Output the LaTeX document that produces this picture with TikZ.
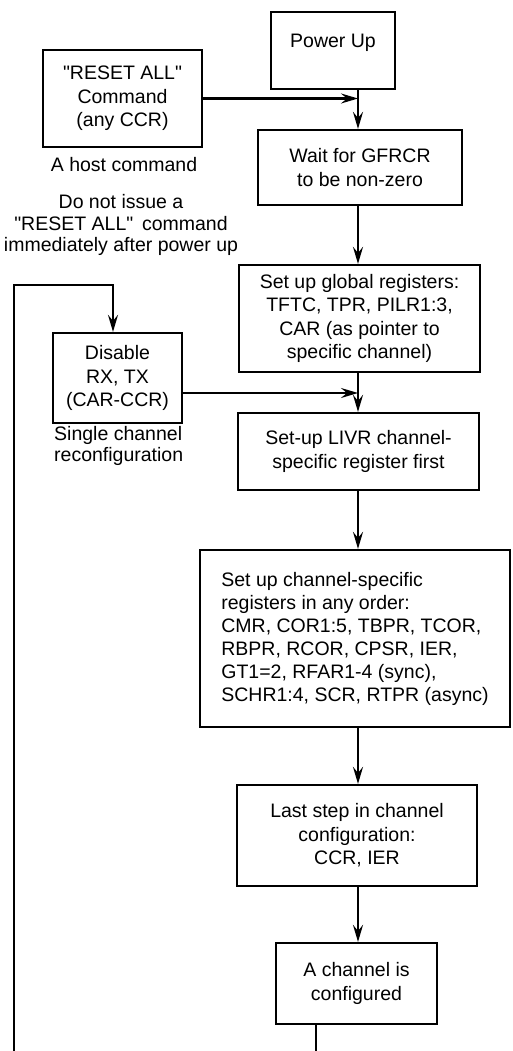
\documentclass[tikz,border=0pt]{standalone}
\usepackage{fontspec}
% plain typewriter-style quotes: keep " as it is typed
\setmainfont{Liberation Sans}[Ligatures=TeXOff]
\usetikzlibrary{arrows.meta}
\begin{document}
\begin{tikzpicture}[x=1pt,y=-1pt,
  box/.style={draw, line width=2.2pt, align=center, inner sep=0pt,
    font=\fontsize{19.5}{23.5}\selectfont},
  lbl/.style={align=center, inner sep=0pt,
    font=\fontsize{19.5}{21.5}\selectfont},
  flow/.style={line width=2.2pt,
    -{Stealth[length=17pt,width=10pt,inset=6pt]}},
  wire/.style={line width=2.2pt}]
\useasboundingbox (0,0) rectangle (512,1051);

% main column of steps
\node[box, minimum width=124pt, minimum height=77pt, text depth=19pt] (pwr) at (333,50.5) {Power Up};
\node[box, minimum width=159pt, minimum height=97pt] (rst) at (122.5,98.5)
  {"RESET ALL"\\Command\\(any CCR)};
\node[box, minimum width=204pt, minimum height=75pt] (wait) at (360,167.5)
  {Wait for GFRCR\\to be non-zero};
\node[box, minimum width=241pt, minimum height=107pt] (glob) at (359.5,318.5)
  {Set up global registers:\\TFTC, TPR, PILR1:3,\\CAR (as pointer to\\ specific channel)};
\node[box, minimum width=129pt, minimum height=90pt] (dis) at (117.5,378)
  {Disable\\RX, TX\\(CAR-CCR)};
\node[box, minimum width=241pt, minimum height=77pt] (livr) at (358.5,451.5)
  {Set-up LIVR channel-\\specific register first};
\node[box, minimum width=310pt, minimum height=177pt, align=left,
  font=\fontsize{19.5}{23}\selectfont] (chan) at (355,638.5)
  {Set up channel-specific\\registers in any order:\\CMR, COR1:5, TBPR, TCOR,\\RBPR, RCOR, CPSR, IER,\\GT1=2, RFAR1-4 (sync),\\SCHR1:4, SCR, RTPR (async)};
\node[box, minimum width=240pt, minimum height=101pt] (last) at (357,835.5)
  {Last step in channel\\configuration:\\CCR, IER};
\node[box, minimum width=161pt, minimum height=81pt] (done) at (356.5,983.5)
  {A channel is\\configured};

% side notes
\node[lbl] (host) at (124,165) {A host command};
\node[lbl] (note) at (121,225)
  {Do not issue a\\"RESET ALL"\hspace{0.45em}command\\immediately after power up};
\node[lbl, align=left, anchor=west] (single) at (54,446)
  {Single channel\\reconfiguration};

% connectors
\coordinate (axis) at (358,0);
\coordinate (loopbot) at (14,1051);
\coordinate (looptop) at (14,285);
\coordinate (exit) at (316,1051);

\draw[flow] (pwr.south -| axis) -- (wait.north -| axis);
\draw[flow] (rst.east) -- (rst.east -| axis);
\draw[flow] (wait.south -| axis) -- (glob.north -| axis);
\draw[flow] (glob.south -| axis) -- (livr.north -| axis);
\draw[flow] ([yshift=-15pt]dis.east) -- ([yshift=-15pt]dis.east -| axis);
\draw[flow] (livr.south -| axis) -- (chan.north -| axis);
\draw[flow] (chan.south -| axis) -- (last.north -| axis);
\draw[flow] (last.south -| axis) -- (done.north -| axis);
\draw[wire] (done.south -| exit) -- (exit);
\draw[flow] (loopbot) -- (looptop) -| ([xshift=-4.5pt]dis.north);
\end{tikzpicture}
\end{document}
